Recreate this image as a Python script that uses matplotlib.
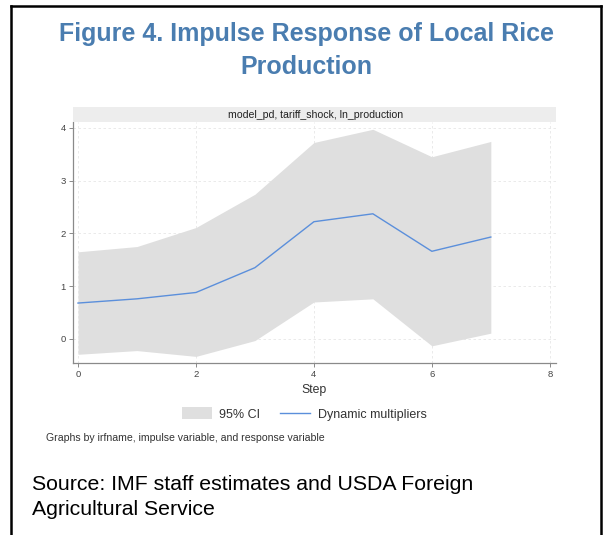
import matplotlib
matplotlib.use("Agg")
import matplotlib.pyplot as plt
from matplotlib.patches import Rectangle, Patch
from matplotlib.lines import Line2D

plt.rcParams['font.family'] = ['Liberation Sans', 'DejaVu Sans']

# ---- data ----
steps = [0, 1, 2, 3, 4, 5, 6, 7]
irf = [0.68, 0.76, 0.88, 1.35, 2.22, 2.37, 1.66, 1.93]
ci_upper = [1.65, 1.75, 2.11, 2.74, 3.72, 3.97, 3.45, 3.74]
ci_lower = [-0.29, -0.22, -0.33, -0.03, 0.70, 0.76, -0.13, 0.11]
x_ticks = [0, 2, 4, 6, 8]
y_ticks = [0, 1, 2, 3, 4]

title = "Figure 4. Impulse Response of Local Rice\nProduction"
strip_label = "model_pd, tariff_shock, ln_production"
legend_labels = ["95% CI", "Dynamic multipliers"]
note = "Graphs by irfname, impulse variable, and response variable"
source = "Source: IMF staff estimates and USDA Foreign\nAgricultural Service"

W, H = 605, 535
fig = plt.figure(figsize=(W / 100, H / 100), dpi=100)
fig.patch.set_facecolor('white')

def fx(px):
    return px / W

def fy(py):
    return 1 - py / H

# outer border (open at bottom)
fig.add_artist(Line2D([fx(11.5), fx(11.5)], [0, fy(6)], color='black', lw=1.8, transform=fig.transFigure))
fig.add_artist(Line2D([fx(600.5), fx(600.5)], [0, fy(6)], color='black', lw=1.8, transform=fig.transFigure))
fig.add_artist(Line2D([fx(11.5), fx(600.5)], [fy(6), fy(6)], color='black', lw=1.8, transform=fig.transFigure))

# title
fig.text(fx(306), fy(50.5), title, ha='center', va='center', fontsize=18, fontweight='bold',
         color='#4A7DB0', linespacing=1.5)

# axes
ax_l, ax_r, ax_t, ax_b = 72.7, 555.7, 122, 363
ax = fig.add_axes([fx(ax_l), fy(ax_b), fx(ax_r - ax_l), (ax_b - ax_t) / H])
ax.fill_between(steps, ci_lower, ci_upper, color='#DFDFDF', lw=0, zorder=2)
ax.plot(steps, irf, color='#5B8FDB', lw=1.0, zorder=3)
ax.set_xlim(-0.09, 8.1)
ax.set_ylim(-0.455, 4.108)
ax.set_xticks(x_ticks)
ax.set_yticks(y_ticks)
ax.grid(True, ls=(0, (3, 3)), color='#E6E6E6', lw=0.6, zorder=0)
ax.set_axisbelow(True)
for s in ['top', 'right']:
    ax.spines[s].set_visible(False)
for s in ['left', 'bottom']:
    ax.spines[s].set_color('#8A8A8A')
    ax.spines[s].set_linewidth(0.9)
ax.tick_params(axis='both', labelsize=6.8, colors='#8A8A8A', labelcolor='#444444',
               length=3, width=0.7, pad=2)
ax.set_xlabel("Step", fontsize=8.8, color='#333333', labelpad=4)

# strip header
fig.add_artist(Rectangle((fx(ax_l), fy(122)), fx(ax_r - ax_l), (122 - 107) / H,
                         transform=fig.transFigure, facecolor='#EDEDED', edgecolor='none'))
fig.text(fx(316), fy(114.5), strip_label, ha='center', va='center', fontsize=7.6, color='#222222')

# legend
handles = [Patch(facecolor='#DFDFDF', edgecolor='none'),
           Line2D([0], [0], color='#5B8FDB', lw=1.0)]
fig.legend(handles, legend_labels, loc='center', bbox_to_anchor=(fx(304), fy(414)),
           ncol=2, frameon=False, fontsize=9, handlelength=2.4, handleheight=1.1,
           handletextpad=0.6, columnspacing=1.6, labelcolor='#333333')

# note
fig.text(fx(46), fy(438), note, ha='left', va='center', fontsize=7.6, color='#333333')

# source
fig.text(fx(32), fy(497), source, ha='left', va='center', fontsize=15.3, color='black',
         linespacing=1.45)

fig.savefig('out.png', dpi=100, facecolor='white')
